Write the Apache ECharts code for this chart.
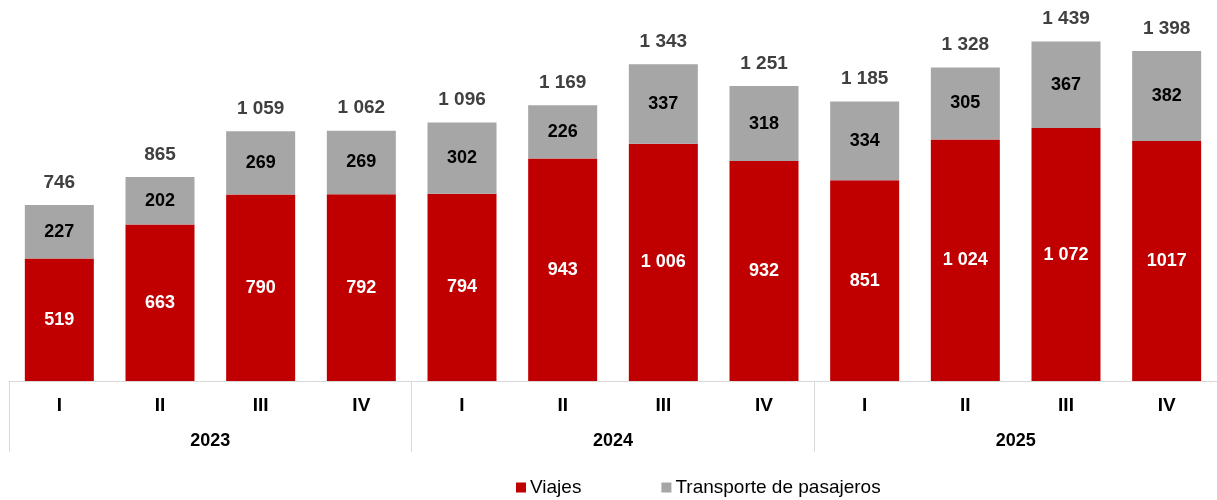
<!DOCTYPE html>
<html>
<head>
<meta charset="utf-8">
<script src="https://cdn.jsdelivr.net/npm/echarts@6/dist/echarts.min.js"></script>
<style>
  html, body { margin: 0; padding: 0; background: #fff; }
  #chart { width: 1217px; height: 500px; }
</style>
</head>
<body>
<div id="chart"></div>
<script>
// trimestres y años
var quarters = ['I', 'II', 'III', 'IV', 'I', 'II', 'III', 'IV', 'I', 'II', 'III', 'IV'];
var years = ['2023', '2024', '2025'];

// valores
var viajes = [519, 663, 790, 792, 794, 943, 1006, 932, 851, 1024, 1072, 1017];
var transporte = [227, 202, 269, 269, 302, 226, 337, 318, 334, 305, 367, 382];
var totales = [746, 865, 1059, 1062, 1096, 1169, 1343, 1251, 1185, 1328, 1439, 1398];
var viajesText = ['519', '663', '790', '792', '794', '943', '1 006', '932', '851', '1 024', '1 072', '1017'];

var FONT = 'Arial, "Liberation Sans", sans-serif';

function fmt(v) {
    return String(v).replace(/\B(?=(\d{3})+(?!\d))/g, ' ');
}

var chart = echarts.init(document.getElementById('chart'));

var option = {
    animation: false,
    textStyle: { fontFamily: FONT },
    grid: { left: 9, width: 1212, top: 3.5, height: 377.5 },
    legend: {
        top: 473,
        left: 511,
        itemWidth: 10,
        itemHeight: 10,
        itemGap: 80,
        icon: 'rect',
        textStyle: { fontFamily: FONT, fontSize: 19, color: '#000', padding: [0, 0, 0, -1] },
        data: ['Viajes', 'Transporte de pasajeros']
    },
    xAxis: [
        {
            type: 'category',
            data: quarters,
            axisLine: { lineStyle: { color: '#d9d9d9', width: 1 } },
            axisTick: { show: false },
            axisLabel: { fontFamily: FONT, fontSize: 19, fontWeight: 'bold', color: '#000', margin: 15 }
        },
        {
            type: 'category',
            data: years,
            position: 'bottom',
            axisLine: { show: false },
            axisTick: { show: true, interval: 0, length: 71, lineStyle: { color: '#d9d9d9', width: 1 } },
            axisLabel: { fontFamily: FONT, fontSize: 18, fontWeight: 'bold', color: '#000', margin: 51 }
        }
    ],
    yAxis: {
        type: 'value',
        min: 0,
        max: 1600,
        show: false,
        splitLine: { show: false }
    },
    series: [
        {
            name: 'Viajes',
            type: 'bar',
            stack: 'total',
            barWidth: 69,
            data: viajes,
            itemStyle: { color: '#c00000' },
            label: {
                show: true,
                position: 'inside',
                fontFamily: FONT,
                fontSize: 18,
                fontWeight: 'bold',
                color: '#fff',
                formatter: function (p) { return viajesText[p.dataIndex]; }
            }
        },
        {
            name: 'Transporte de pasajeros',
            type: 'bar',
            stack: 'total',
            barWidth: 69,
            data: transporte,
            itemStyle: { color: '#a6a6a6' },
            label: {
                show: true,
                position: 'inside',
                fontFamily: FONT,
                fontSize: 18,
                fontWeight: 'bold',
                color: '#000',
                formatter: function (p) { return fmt(p.value); }
            }
        },
        {
            name: 'Total',
            type: 'bar',
            stack: 'total',
            barWidth: 69,
            data: totales.map(function () { return 0; }),
            itemStyle: { color: 'transparent' },
            label: {
                show: true,
                position: 'top',
                distance: 13,
                fontFamily: FONT,
                fontSize: 19,
                fontWeight: 'bold',
                color: '#404040',
                formatter: function (p) { return fmt(totales[p.dataIndex]); }
            }
        }
    ]
};

chart.setOption(option);
</script>
</body>
</html>
